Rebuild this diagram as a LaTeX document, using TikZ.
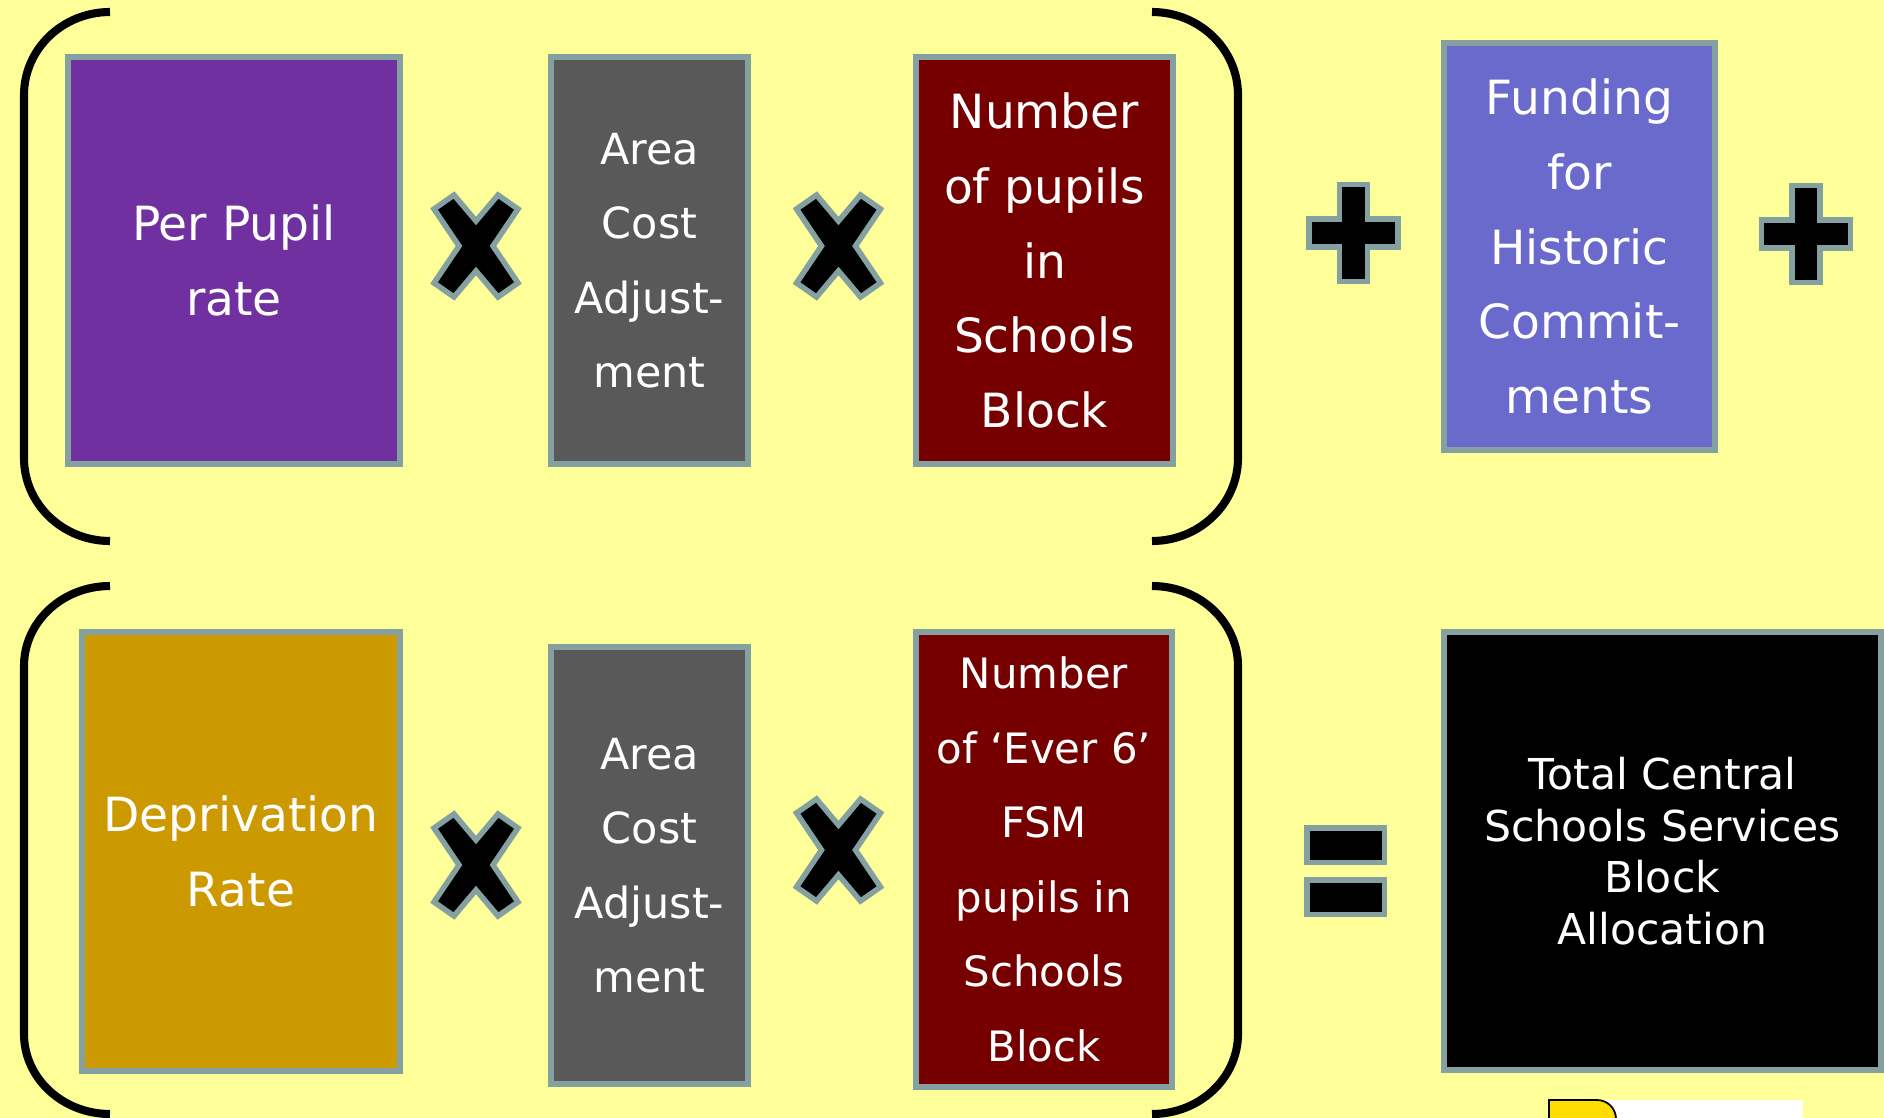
\documentclass[tikz,border=0pt]{standalone}
\usepackage{fontspec}
\setmainfont{DejaVu Sans}
\usepackage{tikz}

\definecolor{paper}{HTML}{FFFF99}
\definecolor{rim}{HTML}{85A0A0}
\definecolor{plum}{HTML}{7030A0}
\definecolor{slate}{HTML}{595959}
\definecolor{maroon}{HTML}{760000}
\definecolor{lavender}{HTML}{6A6ACC}
\definecolor{mustard}{HTML}{CC9900}

\begin{document}
\begin{tikzpicture}[x=0.01cm,y=-0.01cm,
  box/.style={draw=rim,line width=1.56pt,text=white,align=center,inner sep=0pt},
  bigtext/.style={font=\fontsize{13.4pt}{21.2pt}\selectfont},
  smalltext/.style={font=\fontsize{12.2pt}{21.2pt}\selectfont},
  opsign/.style={fill=black,draw=rim,line width=1.56pt,line join=miter},
  paren/.style={line width=2.3pt}]
\useasboundingbox (0,0) rectangle (1884,1118);
\fill[paper] (0,0) rectangle (1884,1118);

% brackets
\draw[paren] (110,12) arc[start angle=270,end angle=180,x radius=86,y radius=83] -- (24,458)
  arc[start angle=180,end angle=90,x radius=86,y radius=83];
\draw[paren] (1152,12) arc[start angle=270,end angle=360,x radius=86,y radius=83] -- (1238,458)
  arc[start angle=0,end angle=90,x radius=86,y radius=83];
\draw[paren] (110,586) arc[start angle=270,end angle=180,x radius=86,y radius=80] -- (24,1034)
  arc[start angle=180,end angle=90,x radius=86,y radius=80];
\draw[paren] (1152,586) arc[start angle=270,end angle=360,x radius=86,y radius=80] -- (1238,1034)
  arc[start angle=0,end angle=90,x radius=86,y radius=80];

% top row
\node[box,bigtext,fill=plum,minimum width=3.32cm,minimum height=4.07cm] (perpupil) at (234,260.5) {Per Pupil\\rate};
\node[box,smalltext,fill=slate,minimum width=1.97cm,minimum height=4.07cm] (acatop) at (649.5,260.5) {Area\\Cost\\Adjust-\\ment};
\node[box,bigtext,fill=maroon,minimum width=2.57cm,minimum height=4.07cm] (pupils) at (1044.5,260.5) {Number\\of pupils\\in\\Schools\\Block};
\node[box,bigtext,fill=lavender,minimum width=2.71cm,minimum height=4.07cm] (historic) at (1579.5,246.5) {Funding\\for\\Historic\\Commit-\\ments};

% bottom row
\node[box,bigtext,fill=mustard,minimum width=3.18cm,minimum height=4.39cm] (deprivation) at (241,851.5) {Deprivation\\Rate};
\node[box,smalltext,fill=slate,minimum width=1.97cm,minimum height=4.37cm] (acabot) at (649.5,865.5) {Area\\Cost\\Adjust-\\ment};
\node[box,fill=maroon,minimum width=2.56cm,minimum height=4.55cm,font=\fontsize{11.9pt}{21.2pt}\selectfont] (ever6) at (1044,859.5) {Number\\of ‘Ever 6’\\FSM\\pupils in\\Schools\\Block};
\node[box,fill=black,minimum width=4.37cm,minimum height=4.38cm,font=\fontsize{12.1pt}{14.7pt}\selectfont] (total) at (1662.5,851) {Total Central\\Schools Services\\Block\\Allocation};

% times signs
\draw[opsign,shift={(476,246)}] (-42,-37) -- (-22,-51) -- (0,-25) -- (22,-51) -- (42,-37) -- (17,0) -- (42,37) -- (22,51) -- (0,25) -- (-22,51) -- (-42,37) -- (-17,0) -- cycle;
\draw[opsign,shift={(838.5,246)}] (-42,-37) -- (-22,-51) -- (0,-25) -- (22,-51) -- (42,-37) -- (17,0) -- (42,37) -- (22,51) -- (0,25) -- (-22,51) -- (-42,37) -- (-17,0) -- cycle;
\draw[opsign,shift={(476,865)}] (-42,-37) -- (-22,-51) -- (0,-25) -- (22,-51) -- (42,-37) -- (17,0) -- (42,37) -- (22,51) -- (0,25) -- (-22,51) -- (-42,37) -- (-17,0) -- cycle;
\draw[opsign,shift={(838.5,850)}] (-42,-37) -- (-22,-51) -- (0,-25) -- (22,-51) -- (42,-37) -- (17,0) -- (42,37) -- (22,51) -- (0,25) -- (-22,51) -- (-42,37) -- (-17,0) -- cycle;

% plus signs
\draw[opsign,shift={(1353.5,233)}] (-14,-48.5) -- (14,-48.5) -- (14,-14) -- (44.5,-14) -- (44.5,14) -- (14,14) -- (14,48.5) -- (-14,48.5) -- (-14,14) -- (-44.5,14) -- (-44.5,-14) -- (-14,-14) -- cycle;
\draw[opsign,shift={(1806,234)}] (-14,-48.5) -- (14,-48.5) -- (14,-14) -- (44.5,-14) -- (44.5,14) -- (14,14) -- (14,48.5) -- (-14,48.5) -- (-14,14) -- (-44.5,14) -- (-44.5,-14) -- (-14,-14) -- cycle;

% equals sign
\draw[opsign] (1306.75,827.75) rectangle (1384.25,862.25);
\draw[opsign] (1306.75,879.75) rectangle (1384.25,914.25);

% corner of the logo
\fill[white] (1549,1100) rectangle (1803,1118);
\draw[fill={rgb,255:red,255;green,221;blue,0},line width=0.5pt] (1549,1120) -- (1549,1100) -- (1597,1100)
  arc[start angle=270,end angle=360,radius=19] -- (1616,1120);
\end{tikzpicture}
\end{document}
